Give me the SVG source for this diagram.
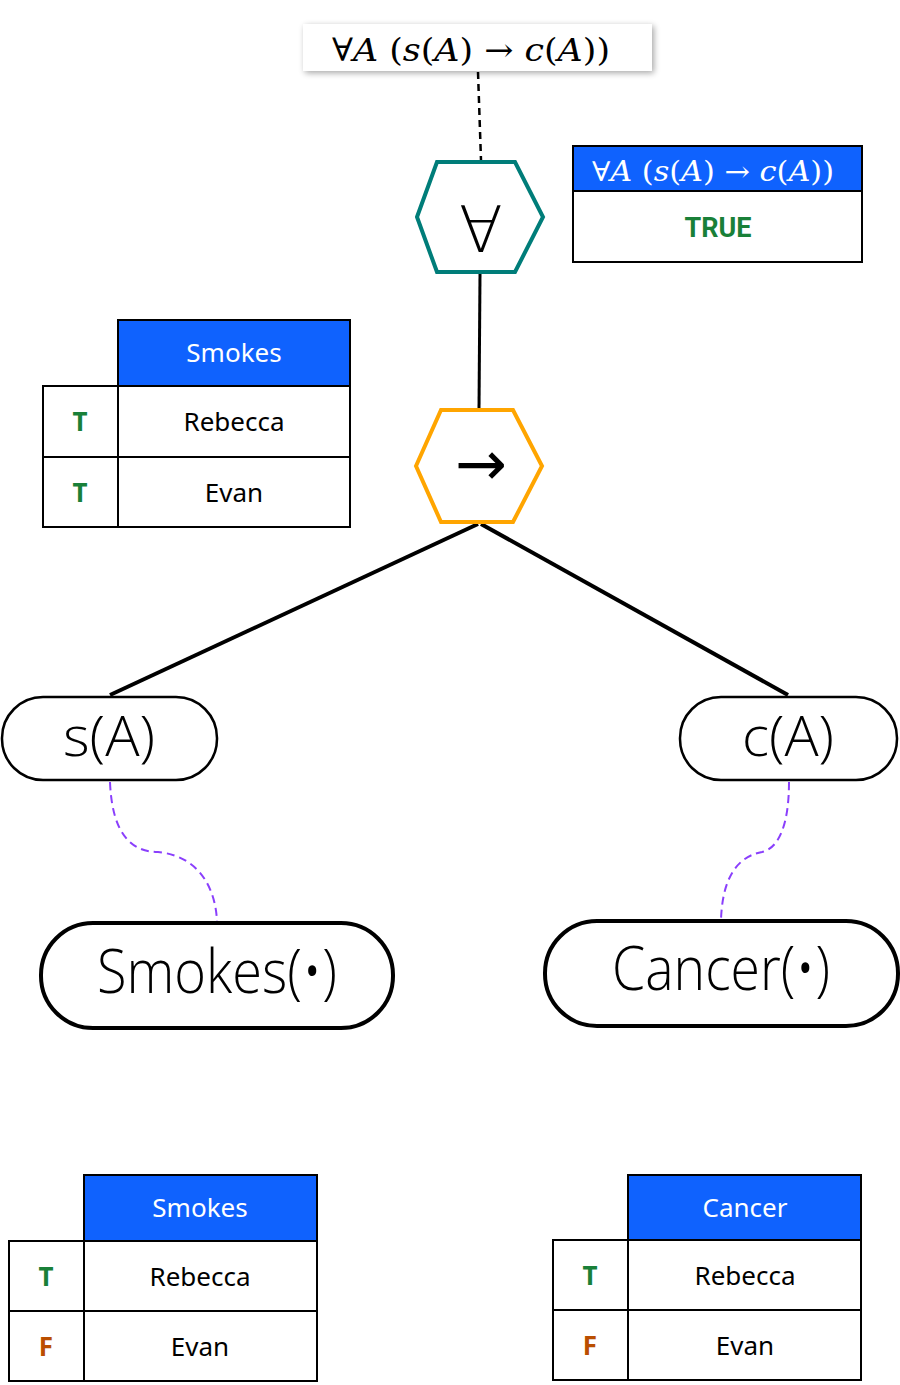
<svg xmlns="http://www.w3.org/2000/svg" width="900" height="1385" viewBox="0 0 900 1385">
<defs>
<filter id="shadow" x="-10%" y="-40%" width="120%" height="180%">
<feGaussianBlur in="SourceAlpha" stdDeviation="3"/>
<feOffset dx="2" dy="2"/>
<feComponentTransfer><feFuncA type="linear" slope="0.35"/></feComponentTransfer>
<feMerge><feMergeNode/><feMergeNode in="SourceGraphic"/></feMerge>
</filter>
</defs>
<style>
.math{font-family:"DejaVu Serif","Liberation Serif",serif;}
.it{font-style:italic;}
.cell{fill:#fff;stroke:#000;stroke-width:2;}
.head{fill:#0f62fe;stroke:#000;stroke-width:2;}
.ht{font-family:"Noto Sans","DejaVu Sans",sans-serif;font-size:26px;fill:#fff;text-anchor:middle;}
.ct{font-family:"Noto Sans","DejaVu Sans",sans-serif;font-size:26px;fill:#000;text-anchor:middle;}
.tv{font-family:"Noto Sans","DejaVu Sans",sans-serif;font-size:26px;font-weight:bold;fill:#198038;text-anchor:middle;}
.fv{font-family:"Noto Sans","DejaVu Sans",sans-serif;font-size:26px;font-weight:bold;fill:#ba4e00;text-anchor:middle;}
.node{fill:#fff;stroke:#000;}
.nt{font-family:"Open Sans","Noto Sans",sans-serif;font-weight:300;fill:#000;text-anchor:middle;}
.edge{stroke:#000;fill:none;}
.link{stroke:#8a3ffc;stroke-width:2;stroke-dasharray:8 5;fill:none;}
</style>

<g id="connectors">
<line class="edge" x1="478" y1="72" x2="481" y2="160" stroke-width="2.5" stroke-dasharray="7 5"/>
<line class="edge" x1="480" y1="274" x2="479" y2="409" stroke-width="3"/>
<line class="edge" x1="478" y1="524" x2="110" y2="695" stroke-width="4"/>
<line class="edge" x1="481" y1="524" x2="788" y2="695" stroke-width="4"/>
<path class="link" d="M110,782 C112,832 130,852 158,852 C200,856 216,890 217,922"/>
<path class="link" d="M789,782 C789,822 780,848 762,852 C730,858 722,890 721,920"/>
</g>

<g id="formula-top">
<rect x="303" y="24" width="349" height="47" fill="#fff" filter="url(#shadow)"/>
<text class="math" x="471" y="61" font-size="32" text-anchor="middle" textLength="278" lengthAdjust="spacingAndGlyphs">∀<tspan class="it">A</tspan> (<tspan class="it">s</tspan>(<tspan class="it">A</tspan>) → <tspan class="it">c</tspan>(<tspan class="it">A</tspan>))</text>
</g>

<g id="forall-node">
<polygon points="417,217 437,162 515,162 543,217 515,272 437,272" fill="#fff" stroke="#007d79" stroke-width="4"/>
<text x="481" y="252" font-family="DejaVu Sans, sans-serif" font-weight="200" font-size="64" text-anchor="middle">∀</text>
</g>

<g id="truth-box">
<rect class="head" x="573" y="146" width="289" height="45"/>
<rect class="cell" x="573" y="191" width="289" height="71"/>
<text class="math" x="713" y="181" font-size="27" fill="#fff" text-anchor="middle" textLength="242" lengthAdjust="spacingAndGlyphs">∀<tspan class="it">A</tspan> (<tspan class="it">s</tspan>(<tspan class="it">A</tspan>) → <tspan class="it">c</tspan>(<tspan class="it">A</tspan>))</text>
<text x="718" y="237" font-family="Roboto, sans-serif" font-weight="bold" font-size="27" fill="#198038" text-anchor="middle">TRUE</text>
</g>

<g id="implies-node">
<polygon points="416,466 441,410 513,410 542,466 513,522 441,522" fill="#fff" stroke="#ffa500" stroke-width="4"/>
<text x="481" y="485" font-family="DejaVu Sans, sans-serif" font-size="62" text-anchor="middle">→</text>
</g>

<g id="table-smokes-top">
<rect class="head" x="118" y="320" width="232" height="66"/>
<rect class="cell" x="43" y="386" width="75" height="71"/>
<rect class="cell" x="118" y="386" width="232" height="71"/>
<rect class="cell" x="43" y="457" width="75" height="70"/>
<rect class="cell" x="118" y="457" width="232" height="70"/>
<text class="ht" x="234" y="362">Smokes</text>
<text class="tv" x="80" y="431">T</text>
<text class="ct" x="234" y="431">Rebecca</text>
<text class="tv" x="80" y="502">T</text>
<text class="ct" x="234" y="502">Evan</text>
</g>

<g id="s-node">
<rect class="node" x="2" y="697" width="215" height="83" rx="41" stroke-width="2.5"/>
<text class="nt" x="109" y="756" font-size="56" textLength="92" lengthAdjust="spacingAndGlyphs">s(A)</text>
</g>

<g id="c-node">
<rect class="node" x="680" y="697" width="217" height="83" rx="41" stroke-width="2.5"/>
<text class="nt" x="788" y="756" font-size="56" textLength="92" lengthAdjust="spacingAndGlyphs">c(A)</text>
</g>

<g id="smokes-pred">
<rect class="node" x="41" y="923" width="352" height="105" rx="52" stroke-width="4"/>
<text class="nt" x="217" y="993" font-size="60" textLength="240" lengthAdjust="spacingAndGlyphs">Smokes(•)</text>
</g>

<g id="cancer-pred">
<rect class="node" x="545" y="921" width="353" height="105" rx="52" stroke-width="4"/>
<text class="nt" x="721" y="990" font-size="60" textLength="218" lengthAdjust="spacingAndGlyphs">Cancer(•)</text>
</g>

<g id="table-smokes-bottom">
<rect class="head" x="84" y="1175" width="233" height="66"/>
<rect class="cell" x="9" y="1241" width="75" height="70"/>
<rect class="cell" x="84" y="1241" width="233" height="70"/>
<rect class="cell" x="9" y="1311" width="75" height="70"/>
<rect class="cell" x="84" y="1311" width="233" height="70"/>
<text class="ht" x="200" y="1217">Smokes</text>
<text class="tv" x="46" y="1286">T</text>
<text class="ct" x="200" y="1286">Rebecca</text>
<text class="fv" x="46" y="1356">F</text>
<text class="ct" x="200" y="1356">Evan</text>
</g>

<g id="table-cancer-bottom">
<rect class="head" x="628" y="1175" width="233" height="65"/>
<rect class="cell" x="553" y="1240" width="75" height="70"/>
<rect class="cell" x="628" y="1240" width="233" height="70"/>
<rect class="cell" x="553" y="1310" width="75" height="70"/>
<rect class="cell" x="628" y="1310" width="233" height="70"/>
<text class="ht" x="745" y="1217">Cancer</text>
<text class="tv" x="590" y="1285">T</text>
<text class="ct" x="745" y="1285">Rebecca</text>
<text class="fv" x="590" y="1355">F</text>
<text class="ct" x="745" y="1355">Evan</text>
</g>
</svg>
